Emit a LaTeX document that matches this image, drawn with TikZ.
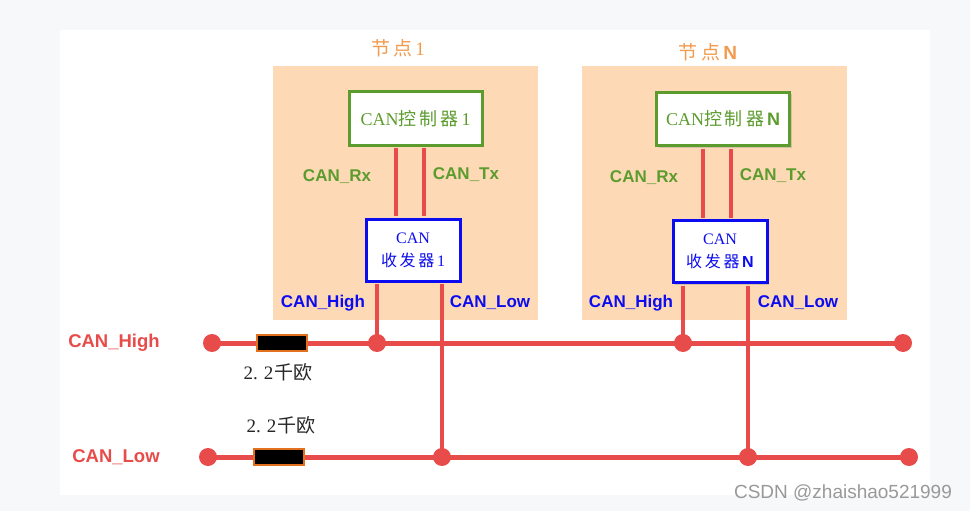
\documentclass[tikz,border=0pt]{standalone}
\usepackage{fontspec}
\setmainfont{Liberation Serif}
\setsansfont{Liberation Sans}
\newfontfamily\cjk{Noto Sans CJK SC}
\usetikzlibrary{positioning,calc,shadows}
\definecolor{pagegray}{HTML}{F7F8FA}
\definecolor{peach}{HTML}{FDD9B5}
\definecolor{busred}{HTML}{E84C4A}
\definecolor{ctrlgreen}{HTML}{5C9C2E}
\definecolor{xcvrblue}{HTML}{0C0CF0}
\definecolor{titleorange}{HTML}{F29A4E}
\definecolor{resorange}{HTML}{E2701C}
\tikzset{
  wire/.style={draw=busred,line width=5pt},
  link/.style={draw=busred,line width=4.5pt,shorten <=1.5pt,shorten >=1.5pt},
  nodebg/.style={fill=peach,minimum width=265pt,minimum height=254pt},
  ctrlbox/.style={draw=ctrlgreen,fill=white,line width=3pt,minimum width=133pt,minimum height=53pt,text=ctrlgreen,font=\fontsize{18}{21}\selectfont,drop shadow={opacity=0.3,shadow xshift=2pt,shadow yshift=-2pt}},
  xcvrbox/.style={draw=xcvrblue,fill=white,line width=3pt,minimum width=94pt,minimum height=62pt,text=xcvrblue,align=center,font=\fontsize{16}{23}\selectfont,drop shadow={opacity=0.3,shadow xshift=2pt,shadow yshift=-2pt}},
  resistor/.style={draw=resorange,fill=black,line width=2pt,minimum width=50pt,minimum height=16pt,inner sep=0pt},
  title/.style={text=titleorange,font=\fontsize{19}{22}\selectfont},
  ctrlsig/.style={text=ctrlgreen,font=\sffamily\bfseries\fontsize{17}{20}\selectfont},
  xcvrsig/.style={text=xcvrblue,font=\sffamily\bfseries\fontsize{17}{20}\selectfont},
  bussig/.style={text=busred,font=\sffamily\bfseries\fontsize{18.5}{22}\selectfont},
  ohm/.style={text=black!85,font=\fontsize{19}{22}\selectfont},
}
\begin{document}
\begin{tikzpicture}[x=1pt,y=-1pt]
\useasboundingbox (0,0) rectangle (970,511);
\fill[pagegray] (0,0) rectangle (970,511);
\fill[white] (60,30) rectangle (930,495);
\node[nodebg] (node1) at (405,193) {};
\node[nodebg] (nodeN) at (714.5,193) {};
\node[title] (title1) at (398,48) {{\cjk 节\,点}\,1};
\node[title] (titleN) at (708,52) {{\cjk 节\,点}\,{\sffamily\bfseries N}};
\node[ctrlbox] (ctrl1) at (415.5,118.5) {CAN{\cjk 控\,制\,器}\,1};
\node[ctrlbox] (ctrlN) at (723,119) {CAN{\cjk 控\,制\,器}\,{\sffamily\bfseries N}};
\node[xcvrbox] (xcvr1) at (413,250) {CAN\\{\cjk 收\,发\,器}\,1};
\node[xcvrbox] (xcvrN) at (720,251.5) {CAN\\{\cjk 收\,发\,器}\,{\sffamily\bfseries N}};
\coordinate (hL) at (212,343);
\coordinate (hR) at (903,343);
\coordinate (lL) at (208,457);
\coordinate (lR) at (909,457);
\coordinate (jH1) at (377,343);
\coordinate (jL1) at (442,457);
\coordinate (jHN) at (683,343);
\coordinate (jLN) at (748,457);
\draw[link] ([xshift=-19.5pt]ctrl1.south) -- ([xshift=-19.5pt]ctrl1.south |- xcvr1.north);
\draw[link] ([xshift=8.5pt]ctrl1.south) -- ([xshift=8.5pt]ctrl1.south |- xcvr1.north);
\draw[link] ([xshift=-20pt]ctrlN.south) -- ([xshift=-20pt]ctrlN.south |- xcvrN.north);
\draw[link] ([xshift=8pt]ctrlN.south) -- ([xshift=8pt]ctrlN.south |- xcvrN.north);
\draw[link] (xcvr1.south -| jH1) -- (jH1);
\draw[link] (xcvr1.south -| jL1) -- (jL1);
\draw[link] (xcvrN.south -| jHN) -- (jHN);
\draw[link] (xcvrN.south -| jLN) -- (jLN);
\draw[wire] (hL) -- (hR);
\draw[wire] (lL) -- (lR);
\node[resistor] (rH) at (281.5,343) {};
\node[resistor] (rL) at (279,457) {};
\fill[busred] (hL) circle[radius=9pt];
\fill[busred] (hR) circle[radius=9pt];
\fill[busred] (lL) circle[radius=9pt];
\fill[busred] (lR) circle[radius=9pt];
\fill[busred] (jH1) circle[radius=9pt];
\fill[busred] (jL1) circle[radius=9pt];
\fill[busred] (jHN) circle[radius=9pt];
\fill[busred] (jLN) circle[radius=9pt];
\node[ctrlsig] (rx1) at (337,177) {CAN\_Rx};
\node[ctrlsig] (tx1) at (466,175) {CAN\_Tx};
\node[ctrlsig] (rxN) at (644,178) {CAN\_Rx};
\node[ctrlsig] (txN) at (773,176) {CAN\_Tx};
\node[xcvrsig] (hi1) at (323,303) {CAN\_High};
\node[xcvrsig] (lo1) at (490,303) {CAN\_Low};
\node[xcvrsig] (hiN) at (631,303) {CAN\_High};
\node[xcvrsig] (loN) at (798,303) {CAN\_Low};
\node[bussig] (busH) at (114,343) {CAN\_High};
\node[bussig] (busL) at (116,457) {CAN\_Low};
\node[ohm] (ohmH) at (278,372) {2.\hspace{6pt}2\hspace{1pt}{\cjk 千欧}};
\node[ohm] (ohmL) at (281,425) {2.\hspace{6pt}2\hspace{1pt}{\cjk 千欧}};
\node[text=black!40,font=\sffamily\fontsize{19}{22}\selectfont] (mark) at (843,493) {CSDN @zhaishao521999};
\end{tikzpicture}
\end{document}
